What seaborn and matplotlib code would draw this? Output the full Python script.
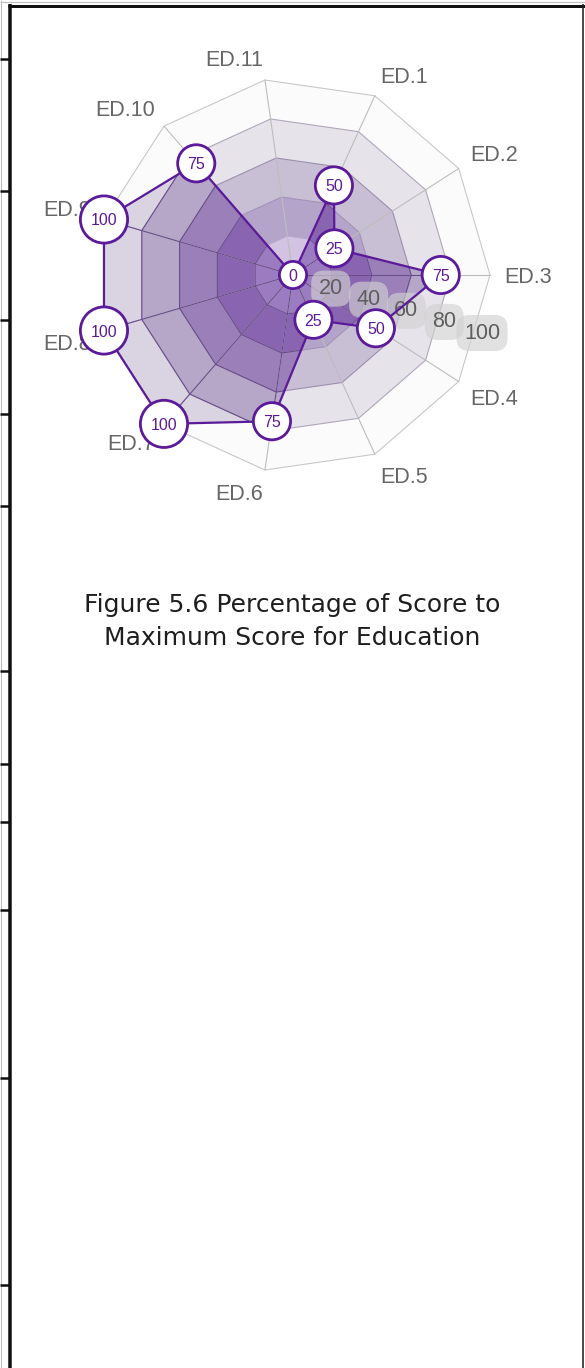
import numpy as np
import matplotlib
matplotlib.use("Agg")
import matplotlib.pyplot as plt
import seaborn as sns
from matplotlib.patches import Polygon
from matplotlib.lines import Line2D

# ---------------- data ----------------
categories = ["ED.1", "ED.2", "ED.3", "ED.4", "ED.5", "ED.6",
              "ED.7", "ED.8", "ED.9", "ED.10", "ED.11"]
scores = [50, 25, 75, 50, 25, 75, 100, 100, 100, 75, 0]
ring_levels = [20, 40, 60, 80, 100]
tick_labels = ["20", "40", "60", "80", "100"]
caption_lines = ["Figure 5.6 Percentage of Score to", "Maximum Score for Education"]

# ---------------- style ----------------
sns.set_theme(style="white")
plt.rcParams["font.family"] = ["Liberation Sans", "DejaVu Sans"]

W, H, DPI = 585, 1368, 100
fig = plt.figure(figsize=(W / DPI, H / DPI), dpi=DPI)
fig.patch.set_facecolor("white")

cx, cy = 293, 275          # centre of radar in pixels
ppu = 1.97                 # pixels per value unit
half = 140
s = half * ppu
ax = fig.add_axes([(cx - s) / W, 1 - (cy + s) / H, 2 * s / W, 2 * s / H])
ax.set_xlim(-half, half)
ax.set_ylim(-half, half)
ax.axis("off")

n = len(categories)
step = 2 * np.pi / n
theta = np.array([(3 - (i + 1)) * step for i in range(n)])


def xy(r, th):
    r = np.asarray(r, dtype=float)
    return r * np.cos(th), r * np.sin(th)


purple = "#5b1a99"
band_out = ["#d3c3e2", "#b4a4c9", "#c9bfd4", "#e6e3ea", "#fbfbfc"]
band_in = ["#9c7cc0", "#8964b1", "#9a7fb9", "#b6a6c8", "#dad3e2"]
ring_line_out = ["#b9a9cc", "#a393b8", "#9d8fb0", "#b0a7bb", "#c8c8c8"]

# data polygon (used as clip path)
dx, dy = xy(scores, theta)
data_poly = Polygon(np.column_stack([dx, dy]), closed=True, fc="none", ec="none")
ax.add_patch(data_poly)

# background bands
for L, c in sorted(zip(ring_levels, band_out), reverse=True):
    px, py = xy(np.full(n, L), theta)
    ax.add_patch(Polygon(np.column_stack([px, py]), closed=True, fc=c, ec="none", zorder=1))
# bands inside the data polygon
for L, c in sorted(zip(ring_levels, band_in), reverse=True):
    px, py = xy(np.full(n, L), theta)
    p = Polygon(np.column_stack([px, py]), closed=True, fc=c, ec="none", zorder=2)
    ax.add_patch(p)
    p.set_clip_path(data_poly)

# grid rings and spokes
for L, c in zip(ring_levels, ring_line_out):
    px, py = xy(np.full(n + 1, L), np.append(theta, theta[0]))
    ax.plot(px, py, color=c, lw=0.8, zorder=3)
    ln, = ax.plot(px, py, color="#6a4c8c", lw=0.8, zorder=3.1)
    ln.set_clip_path(data_poly)
for th in theta:
    sx, sy = xy([0, max(ring_levels)], th)
    ax.plot(sx, sy, color="#bdbdbd", lw=0.8, zorder=3)
    ln, = ax.plot(sx, sy, color="#6a4c8c", lw=0.8, zorder=3.1)
    ln.set_clip_path(data_poly)

# data outline
ax.plot(np.append(dx, dx[0]), np.append(dy, dy[0]), color=purple, lw=1.6, zorder=5)

# axis labels
pad = 14 / ppu
for lab, th in zip(categories, theta):
    lx, ly = xy(max(ring_levels) + pad, th)
    ha = "left" if lx > 1 else ("right" if lx < -1 else "center")
    va = "baseline" if ly > 1 else ("top" if ly < -1 else "center_baseline")
    ax.text(lx, ly, lab, ha=ha, va=va, fontsize=15.5, color="#666666", zorder=3.5)

# radial tick labels
tick_ang = (theta[2] + theta[3]) / 2
for L, lab in zip(ring_levels, tick_labels):
    tx, ty = xy(L, tick_ang)
    ax.text(tx, ty, lab, ha="center", va="center_baseline", fontsize=15.5, color="#5e5e5e",
            zorder=4,
            bbox=dict(boxstyle="round,pad=0.35,rounding_size=0.6", fc="#d2d2d2",
                      ec="none", alpha=0.65))

# data point markers with value labels
diam_px = np.array([20 + 10 * len(str(v)) for v in scores], dtype=float)
sizes = ((diam_px - 2.8) * 72 / DPI) ** 2
sns.scatterplot(x=dx, y=dy, s=sizes, color="white", edgecolor=purple, linewidth=2,
                ax=ax, zorder=6, legend=False)
for x0, y0, v in zip(dx, dy, scores):
    ax.text(x0, y0, str(v), ha="center", va="center_baseline", fontsize=11.5,
            color=purple, zorder=7)

# caption
for txt, base in zip(caption_lines, [612, 645]):
    fig.text(0.5, 1 - base / H, txt, ha="center", va="baseline",
             fontsize=18, family=["DejaVu Sans"], color="#1e1e1e")


# page borders (table cell frame)
def fline(x0, y0, x1, y1, lw_px, color):
    fig.add_artist(Line2D([x0 / W, x1 / W], [1 - y0 / H, 1 - y1 / H],
                          transform=fig.transFigure, lw=lw_px * 72 / DPI,
                          color=color, solid_capstyle="butt"))


fline(0, 1.5, W, 1.5, 1.2, "#c0c0c0")
fline(8, 5.5, W, 5.5, 3, "#111111")
fline(9.5, 4, 9.5, H, 3.5, "#111111")
fline(583, 4, 583, H, 1.6, "#222222")
fline(0.5, 0, 0.5, H, 1, "#bbbbbb")
for yy in [59, 191, 320, 414, 506, 671, 764, 822, 910, 1078, 1285]:
    fline(0, yy, 9, yy, 2.5, "#111111")

fig.savefig("out.png", dpi=DPI)
